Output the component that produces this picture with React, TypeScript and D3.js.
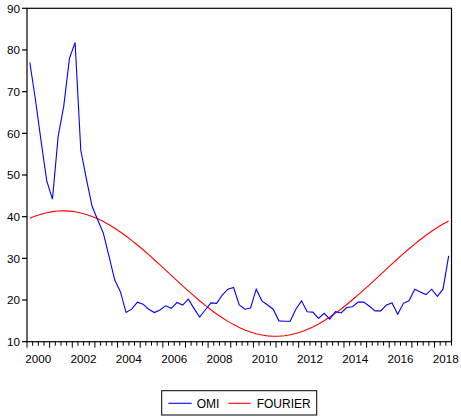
import React from "react";
import * as d3 from "d3";

// Quarterly observations 2000Q1 .. 2018Q3
const startYear = 2000;
const omi: number[] = [
  77.0, 68.0, 58.0, 48.5, 44.2, 59.2, 66.6, 78.0, 81.8, 56.0,
  49.0, 42.5, 39.2, 36.0, 30.4, 24.8, 22.0, 17.0, 17.8, 19.5,
  19.0, 17.8, 17.0, 17.6, 18.6, 18.0, 19.4, 18.8, 20.2, 18.0,
  15.9, 17.6, 19.3, 19.2, 21.2, 22.6, 23.0, 18.8, 17.8, 18.1,
  22.6, 19.8, 18.8, 17.8, 15.0, 14.9, 14.9, 17.8, 19.8, 17.2,
  17.1, 15.6, 16.8, 15.4, 17.2, 16.9, 18.2, 18.4, 19.5, 19.5,
  18.5, 17.4, 17.4, 18.8, 19.3, 16.6, 19.2, 19.8, 22.6, 21.9,
  21.3, 22.6, 20.9, 22.6, 30.6,
];
const fourier: number[] = [
  39.6, 40.15, 40.6, 40.96, 41.21, 41.36, 41.4, 41.34, 41.17, 40.9,
  40.52, 40.05, 39.48, 38.82, 38.07, 37.24, 36.32, 35.35, 34.31, 33.21,
  32.07, 30.88, 29.66, 28.42, 27.17, 25.91, 24.65, 23.41, 22.18, 20.99,
  19.83, 18.72, 17.66, 16.66, 15.73, 14.88, 14.1, 13.41, 12.81, 12.31,
  11.91, 11.6, 11.4, 11.31, 11.32, 11.44, 11.66, 11.98, 12.4, 12.93,
  13.54, 14.25, 15.04, 15.91, 16.85, 17.86, 18.93, 20.06, 21.22, 22.42,
  23.65, 24.9, 26.16, 27.42, 28.67, 29.91, 31.12, 32.3, 33.43, 34.52,
  35.55, 36.51, 37.41, 38.22, 38.95,
];
const yTicks: number[] = [10, 20, 30, 40, 50, 60, 70, 80, 90];
const xLabelYears: number[] = [2000, 2002, 2004, 2006, 2008, 2010, 2012, 2014, 2016, 2018];
const seriesNames: string[] = ["OMI", "FOURIER"];
const seriesColors: string[] = ["#0000ff", "#ff0000"];

const W = 461;
const H = 418;
const left = 27;
const right = 451.5;
const top = 8.3;
const bottom = 341.7;
const font = "'Liberation Sans', Arial, sans-serif";

export default function App() {
  const n = omi.length;
  const x = d3.scaleLinear().domain([0, n]).range([left, right]);
  const y = d3.scaleLinear().domain([10, 90]).range([bottom, top]);
  const line = d3
    .line<number>()
    .x((_, i) => x(i + 0.5))
    .y((d) => y(d));

  const qTicks = d3.range(0, n + 1);

  return (
    <svg
      width={W}
      height={H}
      style={{ position: "absolute", left: 0, top: 0, background: "#fff" }}
    >
      <rect x={0} y={0} width={W} height={H} fill="#fff" />
      {/* frame */}
      <rect
        x={left}
        y={top}
        width={right - left}
        height={bottom - top}
        fill="none"
        stroke="#000"
        strokeWidth={1.2}
      />
      {/* y ticks */}
      {yTicks.map((t) => (
        <g key={"y" + t}>
          <line x1={left - 5} x2={left} y1={y(t)} y2={y(t)} stroke="#000" strokeWidth={1.2} />
          <text
            x={left - 7}
            y={y(t)}
            dy="0.36em"
            textAnchor="end"
            fontFamily={font}
            fontSize={11.7}
            fill="#000"
          >
            {t}
          </text>
        </g>
      ))}
      {/* x ticks */}
      {qTicks.map((k) => (
        <line
          key={"q" + k}
          x1={x(k)}
          x2={x(k)}
          y1={bottom}
          y2={bottom + (k % 4 === 0 ? 6 : 4)}
          stroke="#000"
          strokeWidth={1}
        />
      ))}
      {xLabelYears.map((yr) => (
        <text
          key={"x" + yr}
          x={x((yr - startYear) * 4 + 2)}
          y={363}
          textAnchor="middle"
          fontFamily={font}
          fontSize={11.7}
          fill="#000"
        >
          {yr}
        </text>
      ))}
      {/* series */}
      <path d={line(fourier) || ""} fill="none" stroke={seriesColors[1]} strokeWidth={1.1} />
      <path d={line(omi) || ""} fill="none" stroke={seriesColors[0]} strokeWidth={1.1} />
      {/* legend */}
      <rect x={161.7} y={390.7} width={155} height={24.3} fill="#fff" stroke="#000" strokeWidth={1} />
      <line x1={168.3} x2={191.7} y1={403.3} y2={403.3} stroke={seriesColors[0]} strokeWidth={1.1} />
      <text x={196.7} y={407.5} fontFamily={font} fontSize={12} fill="#000">
        {seriesNames[0]}
      </text>
      <line x1={228.3} x2={250.7} y1={403.3} y2={403.3} stroke={seriesColors[1]} strokeWidth={1.1} />
      <text x={256.7} y={407.5} fontFamily={font} fontSize={12} fill="#000">
        {seriesNames[1]}
      </text>
    </svg>
  );
}
